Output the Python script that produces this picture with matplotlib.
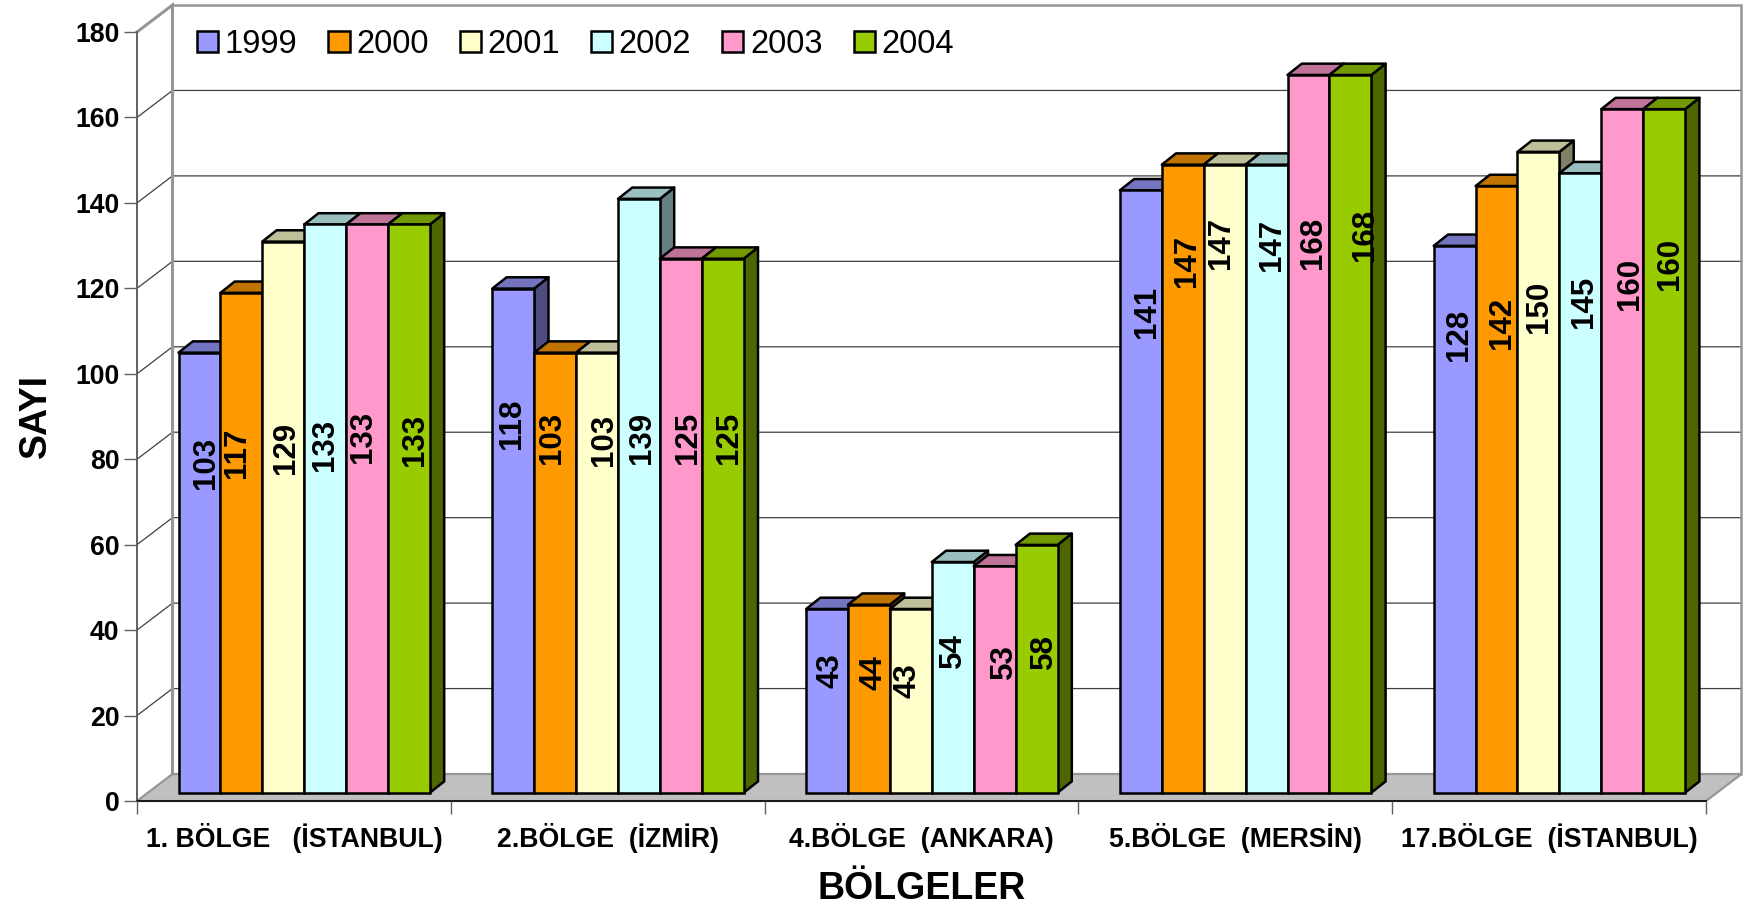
import matplotlib
matplotlib.use("Agg")
import matplotlib.pyplot as plt
from matplotlib.colors import to_rgb
from matplotlib.patches import Polygon

plt.rcParams['font.family'] = ['Liberation Sans', 'DejaVu Sans']

regions = ["1. BÖLGE   (İSTANBUL)", "2.BÖLGE  (İZMİR)", "4.BÖLGE  (ANKARA)",
           "5.BÖLGE  (MERSİN)", "17.BÖLGE  (İSTANBUL)"]
years = ["1999", "2000", "2001", "2002", "2003", "2004"]
v1999 = [103, 118, 43, 141, 128]
v2000 = [117, 103, 44, 147, 142]
v2001 = [129, 103, 43, 147, 150]
v2002 = [133, 139, 54, 147, 145]
v2003 = [133, 125, 53, 168, 160]
v2004 = [133, 125, 58, 168, 160]
series = [v1999, v2000, v2001, v2002, v2003, v2004]
colors = ["#9999FF", "#FF9900", "#FFFFCC", "#CCFFFF", "#FF99CC", "#99CC00"]
yticks = [0, 20, 40, 60, 80, 100, 120, 140, 160, 180]

# hand-placed value label anchors (value-axis height; one row per year, one column per region)
label_h = [[78.7, 88.0, 30.1, 114.1, 108.6],
           [81.1, 84.5, 29.7, 126.1, 111.6],
           [82.2, 84.2, 27.7, 130.2, 115.3],
           [82.9, 84.5, 34.8, 129.8, 116.5],
           [84.9, 84.5, 32.3, 130.2, 120.6],
           [84.1, 84.5, 34.6, 132.2, 125.3]]
# sideways shift of each label, as a fraction of bar width
label_dx = [[.10, -.09, .03, .08, .05],
            [-.17, -.13, .04, .03, .08],
            [.01, .10, -.14, -.15, -.04],
            [-.06, .01, -.06, .08, .03],
            [-.15, .10, .17, .06, .13],
            [.08, .09, .12, .29, .08]]
LABEL_SHIFT_X, LABEL_SHIFT_Y = .06, .4

W, H = 1747, 906
AX_L, AX_R, AX_B, AX_T = 137, 1706, 801, 32
fig = plt.figure(figsize=(W / 100, H / 100), dpi=100, facecolor="white")
ax = fig.add_axes([AX_L / W, 1 - AX_B / H, (AX_R - AX_L) / W, (AX_B - AX_T) / H])
ax.set_xlim(0, 5)
ax.set_ylim(0, 180)
ax.patch.set_visible(False)
for s in ax.spines.values():
    s.set_visible(False)

ux = (AX_R - AX_L) / 5      # px per category
uy = (AX_B - AX_T) / 180    # px per value
wall_dx, wall_dy = 35.5 / ux, 27 / uy
bar_x0, bar_w = 41.5 / ux, 41.9 / ux
bar_base = 8.3 / uy
bar_dx, bar_dy = 14.3 / ux, 11.3 / uy

GRID = "#404040"
FRAME = "#969696"

# floor
ax.add_patch(Polygon([(0, 0), (5, 0), (5 + wall_dx, wall_dy), (wall_dx, wall_dy)],
                     closed=True, fc="#C0C0C0", ec=FRAME, lw=1.6, clip_on=False, zorder=1))
# gridlines on side and back walls
for v in yticks[1:-1]:
    ax.plot([0, wall_dx, 5 + wall_dx], [v, v + wall_dy, v + wall_dy],
            color=GRID, lw=0.9, clip_on=False, zorder=1.2, solid_joinstyle="miter")
# wall frame
ax.plot([0, wall_dx, wall_dx], [180, 180 + wall_dy, wall_dy], color=FRAME, lw=2.2,
        clip_on=False, zorder=1.4, solid_joinstyle="miter")
ax.plot([wall_dx, 5 + wall_dx, 5 + wall_dx], [180 + wall_dy, 180 + wall_dy, wall_dy],
        color=FRAME, lw=1.8, clip_on=False, zorder=1.4, solid_joinstyle="miter")
# front axes
ax.plot([0, 0], [0, 180], color="#606060", lw=1.4, clip_on=False, zorder=1.5)
ax.plot([0, 5], [0, 0], color="black", lw=1.2, clip_on=False, zorder=1.5)


def shade(c, f):
    return tuple(x * f for x in to_rgb(c))


LW = 1.8
z = 2.0
for g in range(len(regions)):
    for i, vals in enumerate(series):
        x = g + bar_x0 + i * bar_w
        v = vals[g]
        top = bar_base + v
        ax.add_patch(Polygon([(x + bar_w, bar_base), (x + bar_w + bar_dx, bar_base + bar_dy),
                              (x + bar_w + bar_dx, top + bar_dy), (x + bar_w, top)],
                             closed=True, fc=shade(colors[i], .5), ec="black", lw=LW,
                             clip_on=False, zorder=z, joinstyle="round"))
        ax.add_patch(Polygon([(x, top), (x + bar_w, top),
                              (x + bar_w + bar_dx, top + bar_dy), (x + bar_dx, top + bar_dy)],
                             closed=True, fc=shade(colors[i], .75), ec="black", lw=LW,
                             clip_on=False, zorder=z + .01, joinstyle="round"))
        ax.bar(x, v, width=bar_w, bottom=bar_base, align="edge", color=colors[i],
               edgecolor="black", lw=LW, zorder=z + .02, clip_on=False,
               label=years[i] if g == 0 else None)
        z += .1

for g in range(len(regions)):
    for i, vals in enumerate(series):
        x = g + bar_x0 + (i + .5 + label_dx[i][g] + LABEL_SHIFT_X) * bar_w
        ax.text(x, label_h[i][g] + LABEL_SHIFT_Y, str(vals[g]), rotation=90, ha="center", va="center",
                fontsize=22.5, fontweight="bold", color="black", zorder=20, clip_on=False)

# axes decorations
ax.set_yticks(yticks)
ax.tick_params(axis="y", length=9.6, width=1.0, color="#606060", pad=3.0, labelsize=19.2)
for t in ax.get_yticklabels():
    t.set_fontweight("bold")
ax.set_xticks(range(6))
ax.set_xticklabels([])
ax.tick_params(axis="x", which="major", length=9.6, width=1.0, color="#606060")
ax.set_xticks([g + .5 for g in range(5)], minor=True)
ax.set_xticklabels(regions, minor=True, fontsize=19.2, fontweight="bold")
ax.tick_params(axis="x", which="minor", length=0, pad=15.5)
ax.set_xlabel("BÖLGELER", fontsize=27, fontweight="bold", labelpad=13)
ax.set_ylabel("SAYI", fontsize=27, fontweight="bold", labelpad=15)

handles, labels = ax.get_legend_handles_labels()
leg = ax.legend(handles, labels, ncol=6, frameon=False, fontsize=23.5, loc="upper left",
                bbox_to_anchor=(197 / W, 1 - 29 / H), bbox_transform=fig.transFigure,
                borderpad=0, borderaxespad=0, handlelength=.65, handleheight=.65,
                handletextpad=.2, columnspacing=.95)
leg.set_zorder(30)

fig.savefig("out.png", dpi=100, facecolor="white")
